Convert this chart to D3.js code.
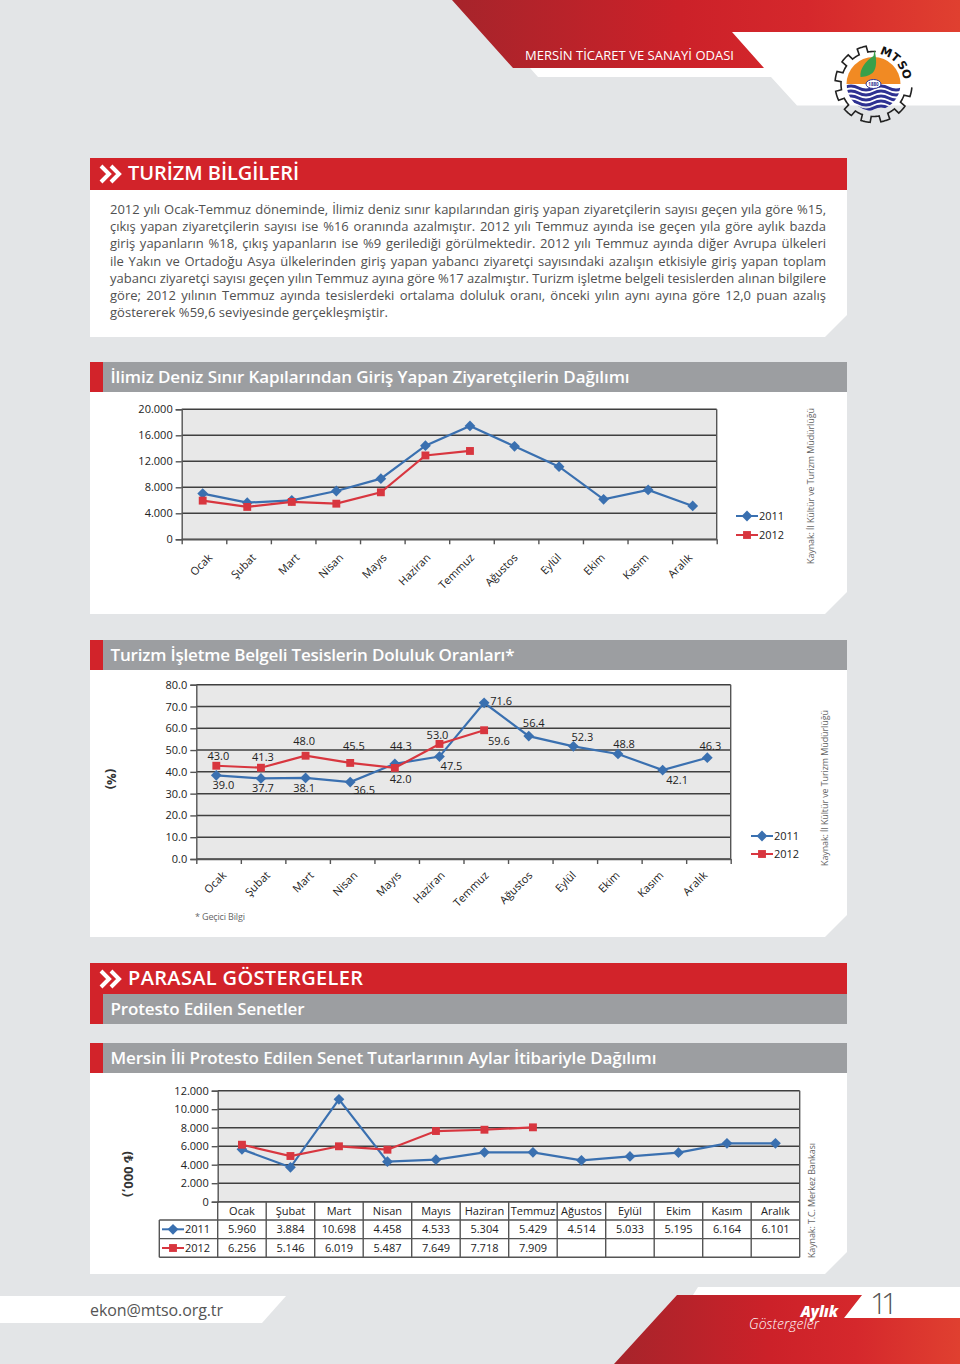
<!DOCTYPE html>
<meta charset="utf-8">
<style>
  body { margin: 0; background: #e3e5e7; }
  svg { display: block; font-family: "Open Sans", "Noto Sans", sans-serif; }
  .tick-label { font-size: 11px; fill: #222; }
  .axis .domain, .axis .tick line { stroke: #555; stroke-width: 1.4px; }
  .axis text { font-size: 11px; fill: #222; font-family: "Open Sans", sans-serif; }
  .grid line { stroke: #3f3f3f; stroke-width: 1.5px; }
</style>

<body>
  <script src="https://d3js.org/d3.v7.min.js"></script>
  <script>

    // months
    var months = ["Ocak", "Şubat", "Mart", "Nisan", "Mayıs", "Haziran", "Temmuz", "Ağustos", "Eylül", "Ekim", "Kasım", "Aralık"];
    var years = ["2011", "2012"];

    // ziyaretci
    var visitors2011 = [7030, 5640, 6000, 7430, 9330, 14410, 17440, 14300, 11180, 6150, 7590, 5130];
    var visitors2012 = [5950, 4980, 5750, 5480, 7230, 12900, 13590];
    var visitorTicks = [0, 4000, 8000, 12000, 16000, 20000];
    var visitorTickLabels = ["0", "4.000", "8.000", "12.000", "16.000", "20.000"];

    // doluluk: plotted position and printed label differ a little in the original
    var occupancy2011 = [38.4, 37.0, 37.2, 35.3, 43.7, 47.0, 71.7, 56.4, 51.7, 48.2, 40.8, 46.5];
    var occupancy2012 = [42.8, 41.9, 47.4, 44.1, 41.8, 52.8, 59.1];
    var occupancyLabels2011 = ["39.0", "37.7", "38.1", "36.5", "44.3", "47.5", "71.6", "56.4", "52.3", "48.8", "42.1", "46.3"];
    var occupancyLabels2012 = ["43.0", "41.3", "48.0", "45.5", "42.0", "53.0", "59.6"];
    var occupancyTicks = [0, 10, 20, 30, 40, 50, 60, 70, 80];

    // senet: plotted line vs. data table
    var protest2011 = [5660, 3720, 11070, 4330, 4540, 5340, 5340, 4470, 4900, 5300, 6310, 6310];
    var protest2012 = [6160, 4940, 5990, 5620, 7640, 7780, 8040];
    var protestTable2011 = ["5.960", "3.884", "10.698", "4.458", "4.533", "5.304", "5.429", "4.514", "5.033", "5.195", "6.164", "6.101"];
    var protestTable2012 = ["6.256", "5.146", "6.019", "5.487", "7.649", "7.718", "7.909"];
    var protestTicks = [0, 2000, 4000, 6000, 8000, 10000, 12000];
    var protestTickLabels = ["0", "2.000", "4.000", "6.000", "8.000", "10.000", "12.000"];

    var paragraph = [
      "2012 yılı Ocak-Temmuz döneminde, İlimiz deniz sınır kapılarından giriş yapan ziyaretçilerin sayısı geçen yıla göre %15,",
      "çıkış yapan ziyaretçilerin sayısı ise %16 oranında azalmıştır. 2012 yılı Temmuz ayında ise geçen yıla göre aylık bazda",
      "giriş yapanların %18, çıkış yapanların ise %9 gerilediği görülmektedir. 2012 yılı Temmuz ayında diğer Avrupa ülkeleri",
      "ile Yakın ve Ortadoğu Asya ülkelerinden giriş yapan yabancı ziyaretçi sayısındaki azalışın etkisiyle giriş yapan toplam",
      "yabancı ziyaretçi sayısı geçen yılın Temmuz ayına göre %17 azalmıştır. Turizm işletme belgeli tesislerden alınan bilgilere",
      "göre; 2012 yılının Temmuz ayında tesislerdeki ortalama doluluk oranı, önceki yılın aynı ayına göre 12,0 puan azalış",
      "göstererek %59,6 seviyesinde gerçekleşmiştir."
    ];

    var BLUE = "#3a70b0", RED = "#d8363f", PLOT_BG = "#e8e8e8", BAR_RED = "#d2232a", BAR_GRAY = "#9c9ea1";

    var svg = d3.select("body").append("svg").attr("width", 960).attr("height", 1364);
    var defs = svg.append("defs");

    function gradient(id) {
      var g = defs.append("linearGradient").attr("id", id);
      g.append("stop").attr("offset", "0%").attr("stop-color", "#a6242b");
      g.append("stop").attr("offset", "45%").attr("stop-color", "#cc2129");
      g.append("stop").attr("offset", "70%").attr("stop-color", "#d5282c");
      g.append("stop").attr("offset", "100%").attr("stop-color", "#e04030");
    }
    gradient("topGrad");
    gradient("botGrad");

    function poly(pts, fill) {
      return svg.append("polygon").attr("points", pts.join(" ")).attr("fill", fill);
    }

    function label(x, y, txt, size, opts) {
      opts = opts || {};
      var t = svg.append("text").attr("x", x).attr("y", y).text(txt)
        .attr("font-size", size)
        .attr("fill", opts.fill || "#fff")
        .attr("font-weight", opts.weight || 400);
      if (opts.len) t.attr("textLength", opts.len);
      if (opts.italic) t.attr("font-style", "italic");
      if (opts.anchor) t.attr("text-anchor", opts.anchor);
      return t;
    }

    // page furniture
    poly(["732,32", "960,32", "960,105.5", "797,105.5", "771,77", "538,77", "530,68", "763,68"], "#fff");
    poly(["452,0", "960,0", "960,32", "732,32", "764,68", "513,68"], "url(#topGrad)");
    label(525, 60, "MERSİN TİCARET VE SANAYİ ODASI", 13, { len: 209 });

    // white panels with cut corner
    function panel(y0, y1) {
      poly(["90," + y0, "847," + y0, "847," + (y1 - 22), "825," + y1, "90," + y1], "#fff");
    }
    panel(190, 337);
    panel(392, 614);
    panel(670, 937);
    panel(1073, 1274);

    function chevrons(y) {
      [100, 110].forEach(function (x) {
        svg.append("path")
          .attr("d", "M" + (x + 1) + "," + (y + 1) + "L" + (x + 9) + "," + (y + 9) + "L" + (x + 1) + "," + (y + 17))
          .attr("fill", "none").attr("stroke", "#fff").attr("stroke-width", 4);
      });
    }

    function redHeader(y, txt, len) {
      svg.append("rect").attr("x", 90).attr("y", y).attr("width", 757).attr("height", 32).attr("fill", BAR_RED);
      chevrons(y + 7);
      label(128, y + 22, txt, 20, { weight: 600, len: len });
    }

    function grayHeader(y, h, txt, len) {
      svg.append("rect").attr("x", 90).attr("y", y).attr("width", 13).attr("height", h).attr("fill", BAR_RED);
      svg.append("rect").attr("x", 103).attr("y", y).attr("width", 744).attr("height", h).attr("fill", BAR_GRAY);
      label(110.5, y + 21, txt, 17, { weight: 600, len: len });
    }

    redHeader(158, "TURİZM BİLGİLERİ", 171);
    grayHeader(362, 30, "İlimiz Deniz Sınır Kapılarından Giriş Yapan Ziyaretçilerin Dağılımı", 519);
    grayHeader(640, 30, "Turizm İşletme Belgeli Tesislerin Doluluk Oranları*", 404);
    redHeader(963, "PARASAL GÖSTERGELER", 235);
    grayHeader(994, 30, "Protesto Edilen Senetler", 194);
    grayHeader(1043, 30, "Mersin İli Protesto Edilen Senet Tutarlarının Aylar İtibariyle Dağılımı", 546);

    // justified paragraph, one svg text per line
    paragraph.forEach(function (line, i) {
      var t = svg.append("text").attr("x", 110).attr("y", 214 + i * 17.2)
        .attr("font-size", 13).attr("fill", "#505050").text(line);
      if (i < paragraph.length - 1) {
        var gaps = line.split(" ").length - 1;
        t.style("word-spacing", (716 - t.node().getComputedTextLength()) / gaps + "px");
      } else {
        t.attr("textLength", 278);
      }
    });

    // shared line chart
    var diamond = d3.symbol().type(d3.symbolSquare).size(58)();
    var square = d3.symbol().type(d3.symbolSquare).size(62)();

    function marker(g, x, y, isDiamond) {
      g.append("path").attr("d", isDiamond ? diamond : square)
        .attr("fill", isDiamond ? BLUE : RED)
        .attr("transform", "translate(" + x + "," + y + ")" + (isDiamond ? " rotate(45)" : ""));
    }

    function legendRow(x, y, year, isDiamond) {
      var g = svg.append("g");
      g.append("line").attr("x1", x).attr("x2", x + 22).attr("y1", y).attr("y2", y)
        .attr("stroke", isDiamond ? BLUE : RED).attr("stroke-width", 2);
      marker(g, x + 11, y, isDiamond);
      g.append("text").attr("x", x + 23).attr("y", y + 4).attr("font-size", 11).attr("fill", "#222").text(year);
    }

    function lineChart(c) {
      var x = d3.scalePoint().domain(months).range(c.pointRange);
      var y = d3.scaleLinear().domain(c.domain).range([c.bottom, c.top]);
      var xTicks = d3.scaleLinear().domain([0, 12]).range([c.left, c.right]);

      svg.append("rect").attr("x", c.left).attr("y", c.top)
        .attr("width", c.right - c.left).attr("height", c.bottom - c.top).attr("fill", PLOT_BG);

      svg.append("g").attr("class", "grid")
        .selectAll("line").data(c.ticks).join("line")
        .attr("x1", c.left).attr("x2", c.right)
        .attr("y1", function (d) { return y(d); }).attr("y2", function (d) { return y(d); });

      svg.append("g").attr("class", "axis")
        .attr("transform", "translate(" + c.left + ",0)")
        .call(d3.axisLeft(y).tickValues(c.ticks).tickSizeOuter(0).tickSize(6).tickPadding(3)
          .tickFormat(function (d, i) { return c.tickLabels[i]; }));

      // right edge of the plot
      svg.append("line").attr("x1", c.right).attr("x2", c.right).attr("y1", c.top).attr("y2", c.bottom)
        .attr("stroke", "#555").attr("stroke-width", 1.4);

      if (!c.table) {
        svg.append("g").attr("class", "axis")
          .attr("transform", "translate(0," + c.bottom + ")")
          .call(d3.axisBottom(xTicks).tickValues(d3.range(13)).tickSize(5).tickSizeOuter(0).tickFormat(""));

        // month labels run a bit tighter than the ticks
        var xLabels = d3.scalePoint().domain(months).range(c.labelRange);
        svg.append("g").selectAll("text").data(months).join("text")
          .attr("class", "tick-label")
          .attr("text-anchor", "end")
          .attr("transform", function (d) {
            return "translate(" + xLabels(d) + "," + (c.bottom + c.labelDy) + ") rotate(-45)";
          })
          .text(function (d) { return d; });
      }

      var line = d3.line()
        .x(function (d, i) { return x(months[i]); })
        .y(function (d) { return y(d); });

      [[c.s2011, BLUE, true], [c.s2012, RED, false]].forEach(function (s) {
        var g = svg.append("g");
        g.append("path").attr("d", line(s[0])).attr("fill", "none").attr("stroke", s[1]).attr("stroke-width", 2.2);
        s[0].forEach(function (v, i) { marker(g, x(months[i]), y(v), s[2]); });
      });

      return { x: x, y: y };
    }

    // chart 1
    lineChart({
      left: 181.7, right: 716.7, top: 409.3, bottom: 539.3, pointRange: [202.7, 692.7],
      domain: [0, 20000], ticks: visitorTicks, tickLabels: visitorTickLabels,
      s2011: visitors2011, s2012: visitors2012, labelRange: [213, 693], labelDy: 19
    });
    legendRow(736, 516, years[0], true);
    legendRow(736, 535, years[1], false);
    label(0, 0, "Kaynak: İl Kültür ve Turizm Müdürlüğü", 9, { fill: "#666", len: 156 })
      .attr("transform", "translate(814,564) rotate(-90)");

    // chart 2
    var occ = lineChart({
      left: 196.3, right: 730.7, top: 684.7, bottom: 859, pointRange: [216.3, 707.3],
      domain: [0, 80], ticks: occupancyTicks, tickLabels: occupancyTicks.map(d3.format(".1f")),
      s2011: occupancy2011, s2012: occupancy2012, labelRange: [227, 708], labelDy: 17
    });

    // hand placed like in the original, [dx, dy] from the marker
    var labelOffsets2011 = [[7, 9], [2, 9.5], [-1.5, 9.7], [14, 7], [6, -18.4], [12, 9.3], [17, -2.7], [5, -13.7], [9, -9.6], [6, -10.3], [14.5, 9], [3, -12.4]];
    var labelOffsets2012 = [[2, -10], [2, -11.7], [-1.5, -15], [3.7, -17.7], [5.7, 11], [-2, -9], [14.7, 10.4]];

    function pointLabels(values, labels, offsets) {
      svg.append("g").selectAll("text").data(values).join("text")
        .attr("text-anchor", "middle").attr("dominant-baseline", "central")
        .attr("font-size", 11).attr("fill", "#222")
        .attr("x", function (d, i) { return occ.x(months[i]) + offsets[i][0]; })
        .attr("y", function (d, i) { return occ.y(d) + offsets[i][1]; })
        .text(function (d, i) { return labels[i]; });
    }
    pointLabels(occupancy2011, occupancyLabels2011, labelOffsets2011);
    pointLabels(occupancy2012, occupancyLabels2012, labelOffsets2012);

    legendRow(751, 836, years[0], true);
    legendRow(751, 854, years[1], false);
    label(0, 0, "(%)", 13, { fill: "#333", weight: 700, anchor: "middle" })
      .attr("transform", "translate(107,779) rotate(90)");
    label(195, 920, "* Geçici Bilgi", 9, { fill: "#666", len: 50 });
    label(0, 0, "Kaynak: İl Kültür ve Turizm Müdürlüğü", 9, { fill: "#666", len: 156 })
      .attr("transform", "translate(828,866) rotate(-90)");

    // chart 3 with data table below
    var tableX = d3.scaleBand().domain(months).range([217.7, 799.7]);
    lineChart({
      left: 217.7, right: 799.7, top: 1090.7, bottom: 1201.7, pointRange: [tableX("Ocak") + tableX.bandwidth() / 2, tableX("Aralık") + tableX.bandwidth() / 2],
      domain: [0, 12000], ticks: protestTicks, tickLabels: protestTickLabels,
      s2011: protest2011, s2012: protest2012, table: true
    });

    var rowY = [1201.7, 1220, 1238.6, 1257.3];
    var tableLines = svg.append("g").attr("stroke", "#555").attr("stroke-width", 1.4);
    rowY.forEach(function (ry, i) {
      tableLines.append("line").attr("x1", i == 0 ? 217.7 : 159.3).attr("x2", 799.7).attr("y1", ry).attr("y2", ry);
    });
    tableX.domain().forEach(function (m) {
      tableLines.append("line").attr("x1", tableX(m)).attr("x2", tableX(m)).attr("y1", rowY[0]).attr("y2", rowY[3]);
    });
    tableLines.append("line").attr("x1", 799.7).attr("x2", 799.7).attr("y1", rowY[0]).attr("y2", rowY[3]);
    tableLines.append("line").attr("x1", 159.3).attr("x2", 159.3).attr("y1", rowY[1]).attr("y2", rowY[3]);

    function tableRow(cells, row) {
      svg.append("g").selectAll("text").data(cells).join("text")
        .attr("text-anchor", "middle").attr("font-size", 11).attr("fill", "#222")
        .attr("x", function (d, i) { return tableX(months[i]) + tableX.bandwidth() / 2; })
        .attr("y", (rowY[row] + rowY[row + 1]) / 2 + 4)
        .text(function (d) { return d; });
    }
    tableRow(months, 0);
    tableRow(protestTable2011, 1);
    tableRow(protestTable2012, 2);
    legendRow(162, 1229.3, years[0], true);
    legendRow(162, 1248, years[1], false);

    label(0, 0, "(₺ 000,)", 13, { fill: "#333", weight: 700, anchor: "middle" })
      .attr("transform", "translate(124,1174) rotate(90)");
    label(0, 0, "Kaynak: T.C. Merkez Bankası", 9, { fill: "#666", len: 115 })
      .attr("transform", "translate(815,1258) rotate(-90)");

    // footer
    poly(["0,1296", "286,1296", "262,1323", "0,1323"], "#fff");
    label(90, 1316, "ekon@mtso.org.tr", 16, { fill: "#555", len: 133 });
    poly(["698,1287", "960,1287", "960,1318", "844,1318", "862,1295", "693,1295"], "#fff");
    poly(["677,1295", "862,1295", "844,1318", "960,1318", "960,1364", "614,1364"], "url(#botGrad)");
    label(838, 1317, "Aylık", 15, { weight: 800, italic: true, anchor: "end" });
    label(749, 1329, "Göstergeler", 14, { weight: 300, italic: true, len: 70 });
    label(870, 1314, "11", 30, { fill: "#555", weight: 300, len: 28 });

    // MTSO logo
    var logo = svg.append("g").attr("transform", "translate(873.5,84)");
    defs.append("clipPath").attr("id", "lowerHalf").append("path")
      .attr("d", d3.arc().innerRadius(0).outerRadius(27).startAngle(Math.PI / 2).endAngle(Math.PI * 1.5)());

    // gear outline, open at the top right for the letters
    var teeth = d3.range(5, 275, 1);
    var gearPts = teeth.map(function (a) {
      var r = (Math.floor((a + 85) / 15) % 2 == 0) ? 38.5 : 32.5;
      return [r * Math.cos(a * Math.PI / 180), r * Math.sin(a * Math.PI / 180)];
    });
    logo.append("path").attr("d", d3.line()(gearPts)).attr("fill", "none").attr("stroke", "#222").attr("stroke-width", 1.6);

    logo.append("path").attr("d", d3.arc().innerRadius(0).outerRadius(27).startAngle(-Math.PI / 2).endAngle(Math.PI / 2)()).attr("fill", "#f18a23");
    var waves = logo.append("g").attr("clip-path", "url(#lowerHalf)");
    [4, 9, 14, 19, 24].forEach(function (wy) {
      waves.append("path")
        .attr("d", "M-30," + wy + "q7.5,-4 15,0t15,0t15,0t15,0")
        .attr("fill", "none").attr("stroke", "#2e3192").attr("stroke-width", 3);
    });
    logo.append("path").attr("d", "M1,-34C3,-26 4,-16 -1,-11C-5,-8 -10,-7 -13,-7C-14,-15 -8,-23 0,-28Z").attr("fill", "#39a04a");
    logo.append("ellipse").attr("cy", 0).attr("rx", 7.5).attr("ry", 4.5).attr("fill", "#fff").attr("stroke", "#2e3192").attr("stroke-width", 1);
    logo.append("text").attr("text-anchor", "middle").attr("y", 1.8).attr("font-size", 4.5).attr("font-weight", 700).attr("fill", "#2e3192").text("1880");

    [["M", 22], ["T", 40], ["S", 57], ["O", 73]].forEach(function (d) {
      logo.append("text").attr("text-anchor", "middle").attr("font-family", "DejaVu Sans").attr("font-size", 11.5).attr("font-weight", 700).attr("fill", "#111")
        .attr("transform", "rotate(" + d[1] + ") translate(0,-30.5)").text(d[0]);
    });

  </script>
</body>
